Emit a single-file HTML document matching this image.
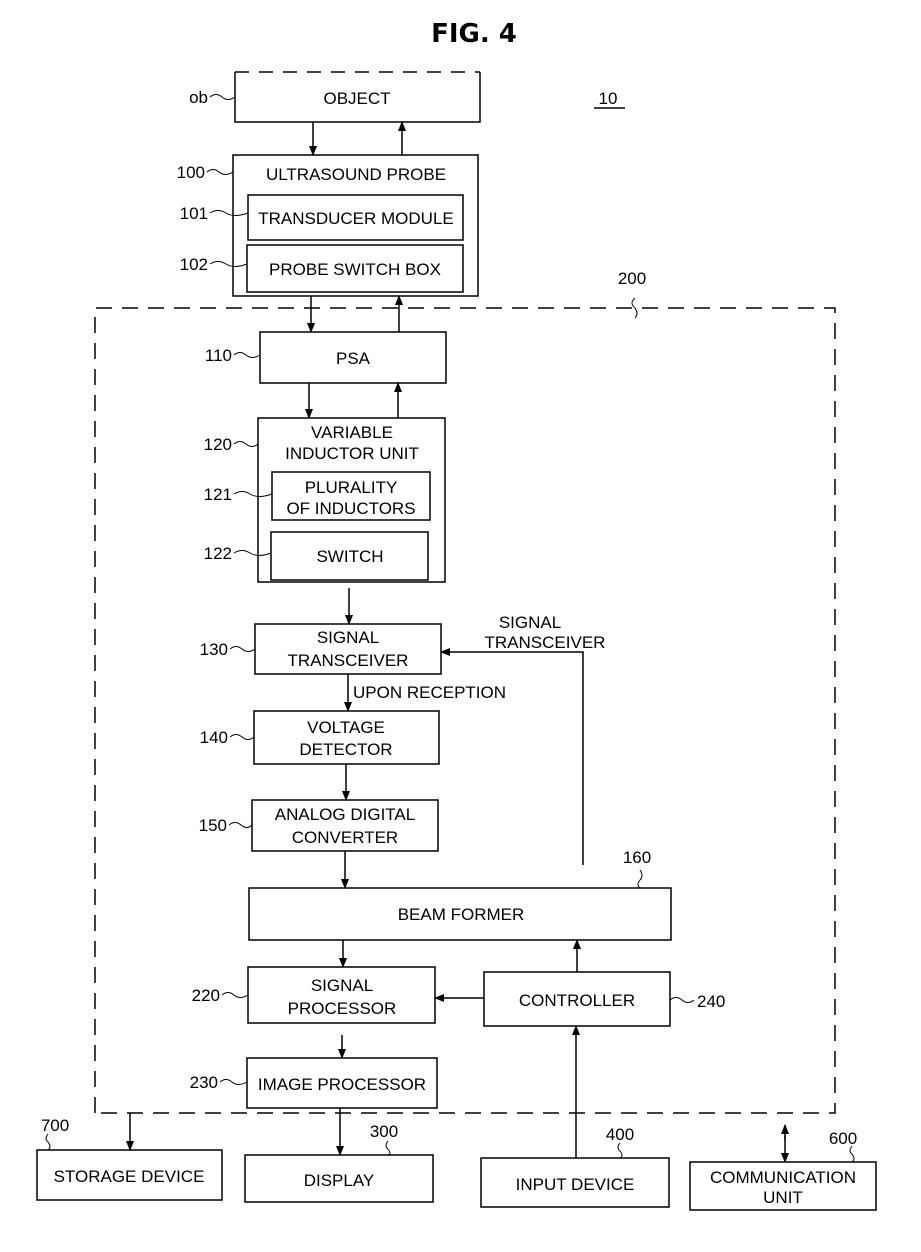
<!DOCTYPE html>
<html><head><meta charset="utf-8"><style>
html,body{margin:0;padding:0;background:#fff;}
svg{display:block;}
text{font-family:"Liberation Sans",sans-serif;font-size:17px;fill:#000;}
.c{text-anchor:middle;}
.r{text-anchor:end;}
</style></head><body>
<svg width="921" height="1252" viewBox="0 0 921 1252" xmlns="http://www.w3.org/2000/svg">
<defs>
<marker id="a" markerWidth="10" markerHeight="10" refX="9" refY="5" orient="auto" markerUnits="userSpaceOnUse"><path d="M0,1 L10,5 L0,9 z" fill="#000"/></marker>
</defs>
<text x="474" y="42" class="c" style="font-weight:bold;font-size:26px;font-family:'DejaVu Sans',sans-serif">FIG. 4</text>
<text x="608" y="104" class="c">10</text>
<line x1="594" y1="108" x2="625" y2="108" stroke="#000" stroke-width="1.5"/>

<g fill="none" stroke="#000" stroke-width="1.5">
<!-- object -->
<line x1="235" y1="72" x2="480" y2="72" stroke-dasharray="14,10"/>
<path d="M235,72 V122 H480 V72"/>
<!-- probe -->
<rect x="233" y="155" width="245" height="141"/>
<rect x="248" y="195" width="215" height="45"/>
<rect x="247" y="245" width="216" height="47"/>
<!-- 200 dashed -->
<path d="M95,1113 V308 H835 V1113 H95" stroke-dasharray="16,10"/>
<rect x="260" y="332" width="186" height="51"/>
<rect x="258" y="418" width="187" height="164"/>
<rect x="272" y="472" width="158" height="48"/>
<rect x="271" y="532" width="157" height="48"/>
<rect x="255" y="624" width="186" height="50"/>
<rect x="254" y="711" width="185" height="53"/>
<rect x="252" y="800" width="186" height="51"/>
<rect x="249" y="888" width="422" height="52"/>
<rect x="248" y="967" width="187" height="56"/>
<rect x="484" y="972" width="186" height="54"/>
<rect x="247" y="1058" width="190" height="50"/>
<rect x="37" y="1150" width="185" height="50"/>
<rect x="245" y="1155" width="188" height="47"/>
<rect x="481" y="1158" width="188" height="49"/>
<rect x="690" y="1162" width="186" height="48"/>
</g>

<g stroke="#000" stroke-width="1.5" fill="none" marker-end="url(#a)">
<line x1="313" y1="122" x2="313" y2="155"/>
<line x1="402" y1="155" x2="402" y2="122"/>
<line x1="311" y1="296" x2="311" y2="332"/>
<line x1="399" y1="332" x2="399" y2="296"/>
<line x1="309" y1="383" x2="309" y2="418"/>
<line x1="398" y1="418" x2="398" y2="383"/>
<line x1="349" y1="588" x2="349" y2="624"/>
<line x1="348" y1="674" x2="348" y2="711"/>
<line x1="346" y1="764" x2="346" y2="800"/>
<line x1="345" y1="851" x2="345" y2="888"/>
<line x1="343" y1="940" x2="343" y2="967"/>
<line x1="342" y1="1035" x2="342" y2="1058"/>
<line x1="577" y1="972" x2="577" y2="940"/>
<line x1="484" y1="998" x2="435" y2="998"/>
<line x1="576" y1="1158" x2="576" y2="1026"/>
<path d="M583,865 V652 H441"/>
<line x1="340" y1="1108" x2="340" y2="1155"/>
<line x1="130" y1="1113" x2="130" y2="1150"/>
<line x1="785" y1="1135" x2="785" y2="1162"/>
<line x1="785" y1="1140" x2="785" y2="1125"/>
</g>

<!-- leader squiggles -->
<g fill="none" stroke="#000" stroke-width="1">
<path d="M210,97 q6,-5 12,0 q6,5 13,0"/>
<path d="M207,172 q6,-5 12,0 q6,5 14,0"/>
<path d="M210,213 q8,-5 16,0 q8,5 22,0"/>
<path d="M210,264 q8,-5 16,0 q8,5 21,0"/>
<path d="M234,355 q6,-5 12,0 q6,5 14,0"/>
<path d="M234,444 q6,-5 12,0 q6,5 12,0"/>
<path d="M234,494 q8,-5 16,0 q8,5 22,0"/>
<path d="M234,553 q8,-5 16,0 q8,5 21,0"/>
<path d="M230,649 q6,-5 12,0 q6,5 13,0"/>
<path d="M230,737 q6,-5 12,0 q6,5 12,0"/>
<path d="M229,825 q6,-5 12,0 q6,5 11,0"/>
<path d="M222,995 q6,-5 12,0 q6,5 14,0"/>
<path d="M220,1082 q6,-5 12,0 q6,5 15,0"/>
<path d="M670,1000 q6,-5 12,0 q6,5 12,0"/>
<path d="M635,298 q-6,5 0,10 q4,6 0,10"/>
<path d="M640,870 q4,6 0,10 q-4,5 0,8"/>
<path d="M48,1134 q-4,5 0,8 q4,5 0,8"/>
<path d="M388,1141 q-4,5 0,8 q4,5 0,6"/>
<path d="M620,1143 q-4,5 0,8 q4,5 0,7"/>
<path d="M852,1146 q-4,5 0,8 q4,5 0,8"/>
</g>

<text x="208" y="103" class="r">ob</text>
<text x="357" y="104" class="c">OBJECT</text>
<text x="205" y="178" class="r">100</text>
<text x="356" y="180" class="c">ULTRASOUND PROBE</text>
<text x="208" y="219" class="r">101</text>
<text x="356" y="224" class="c">TRANSDUCER MODULE</text>
<text x="208" y="270" class="r">102</text>
<text x="355" y="275" class="c">PROBE SWITCH BOX</text>
<text x="632" y="284" class="c">200</text>
<text x="232" y="361" class="r">110</text>
<text x="353" y="364" class="c">PSA</text>
<text x="232" y="450" class="r">120</text>
<text x="352" y="438" class="c">VARIABLE</text>
<text x="352" y="459" class="c">INDUCTOR UNIT</text>
<text x="232" y="500" class="r">121</text>
<text x="351" y="493" class="c">PLURALITY</text>
<text x="351" y="514" class="c">OF INDUCTORS</text>
<text x="232" y="559" class="r">122</text>
<text x="350" y="562" class="c">SWITCH</text>
<text x="228" y="655" class="r">130</text>
<text x="348" y="643" class="c">SIGNAL</text>
<text x="348" y="666" class="c">TRANSCEIVER</text>
<text x="530" y="628" class="c">SIGNAL</text>
<text x="545" y="648" class="c">TRANSCEIVER</text>
<text x="353" y="698">UPON RECEPTION</text>
<text x="228" y="743" class="r">140</text>
<text x="346" y="733" class="c">VOLTAGE</text>
<text x="346" y="755" class="c">DETECTOR</text>
<text x="227" y="831" class="r">150</text>
<text x="345" y="820" class="c">ANALOG DIGITAL</text>
<text x="345" y="843" class="c">CONVERTER</text>
<text x="637" y="863" class="c">160</text>
<text x="461" y="920" class="c">BEAM FORMER</text>
<text x="220" y="1001" class="r">220</text>
<text x="342" y="991" class="c">SIGNAL</text>
<text x="342" y="1014" class="c">PROCESSOR</text>
<text x="577" y="1006" class="c">CONTROLLER</text>
<text x="697" y="1007">240</text>
<text x="218" y="1088" class="r">230</text>
<text x="342" y="1090" class="c">IMAGE PROCESSOR</text>
<text x="55" y="1131" class="c">700</text>
<text x="129" y="1182" class="c">STORAGE DEVICE</text>
<text x="384" y="1137" class="c">300</text>
<text x="339" y="1186" class="c">DISPLAY</text>
<text x="620" y="1140" class="c">400</text>
<text x="575" y="1190" class="c">INPUT DEVICE</text>
<text x="843" y="1144" class="c">600</text>
<text x="783" y="1183" class="c">COMMUNICATION</text>
<text x="783" y="1203" class="c">UNIT</text>
</svg>
</body></html>
